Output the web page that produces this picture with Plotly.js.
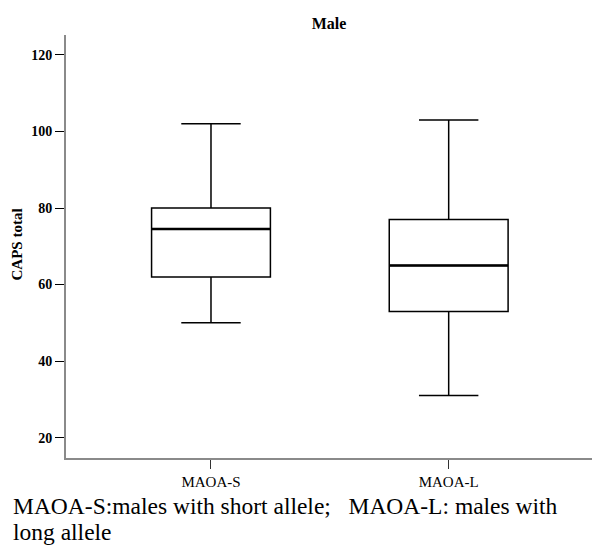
<!DOCTYPE html>
<html>
<head>
<meta charset="utf-8">
<script src="https://cdn.plot.ly/plotly-3.0.1.min.js"></script>
<style>html,body{margin:0;padding:0;background:#fff;}#chart{width:592px;height:546px;}</style>
</head>
<body>
<div id="chart"></div>
<script>
const categories = ['MAOA-S', 'MAOA-L'];
const lowerWhisker = [50, 31];
const q1Values = [62, 53];
const medianValues = [74.5, 65];
const q3Values = [80, 77];
const upperWhisker = [102, 103];
const yTicks = [20, 40, 60, 80, 100, 120];

const FONT = 'Liberation Serif, Times New Roman, serif';
const boxWidth = 0.5;

const traces = [{
  type: 'box',
  x: categories,
  q1: q1Values,
  median: medianValues,
  q3: q3Values,
  lowerfence: lowerWhisker,
  upperfence: upperWhisker,
  boxpoints: false,
  width: boxWidth,
  whiskerwidth: 0.5,
  fillcolor: 'rgba(255,255,255,0)',
  line: {color: '#000', width: 1.5},
  hoverinfo: 'none',
  showlegend: false
}];

// thicker median lines, positioned from the data
const shapes = categories.map((c, i) => ({
  type: 'line', xref: 'x', yref: 'y',
  x0: i - boxWidth / 2, x1: i + boxWidth / 2,
  y0: medianValues[i], y1: medianValues[i],
  line: {color: '#000', width: 2.5}
}));

const layout = {
  width: 592, height: 546,
  margin: {l: 66, r: 0, t: 35, b: 88},
  paper_bgcolor: '#fff', plot_bgcolor: '#fff',
  showlegend: false,
  title: {
    text: '<b>Male</b>',
    font: {family: FONT, size: 16, color: '#000'},
    x: 0.5, xref: 'paper', xanchor: 'center',
    y: 1 - 23 / 546, yref: 'container', yanchor: 'middle'
  },
  xaxis: {
    type: 'category',
    range: [-0.61, 1.603],
    showline: true, linecolor: '#8a8a8a', linewidth: 2,
    ticks: 'outside', ticklen: 9, tickwidth: 1, tickcolor: '#333',
    tickfont: {family: FONT, size: 15, color: '#000'},
    showgrid: false, zeroline: false, fixedrange: true
  },
  yaxis: {
    range: [14.7, 125.2],
    tickvals: yTicks,
    ticktext: yTicks.map(v => '<b>' + v + '</b>'),
    showline: true, linecolor: '#8a8a8a', linewidth: 2,
    ticks: 'outside', ticklen: 9, tickwidth: 1, tickcolor: '#000',
    tickfont: {family: FONT, size: 14, color: '#000'},
    showgrid: false, zeroline: false, fixedrange: true
  },
  shapes: shapes,
  annotations: [
    {
      text: '<b>CAPS total</b>', textangle: -90,
      xref: 'paper', yref: 'paper',
      x: (16.5 - 66) / 526, y: (458 - 245) / 423,
      xanchor: 'center', yanchor: 'middle', showarrow: false,
      font: {family: FONT, size: 15, color: '#000'}
    },
    {
      text: 'MAOA-S:males with short allele;&nbsp;&nbsp; MAOA-L: males with',
      xref: 'paper', yref: 'paper',
      x: (11 - 66) / 526, y: (458 - 506) / 423,
      xanchor: 'left', yanchor: 'middle', showarrow: false,
      font: {family: FONT, size: 23.5, color: '#000'}
    },
    {
      text: 'long allele',
      xref: 'paper', yref: 'paper',
      x: (11 - 66) / 526, y: (458 - 532) / 423,
      xanchor: 'left', yanchor: 'middle', showarrow: false,
      font: {family: FONT, size: 23.5, color: '#000'}
    }
  ]
};

Plotly.newPlot('chart', traces, layout, {displayModeBar: false, staticPlot: true});
</script>
</body>
</html>
